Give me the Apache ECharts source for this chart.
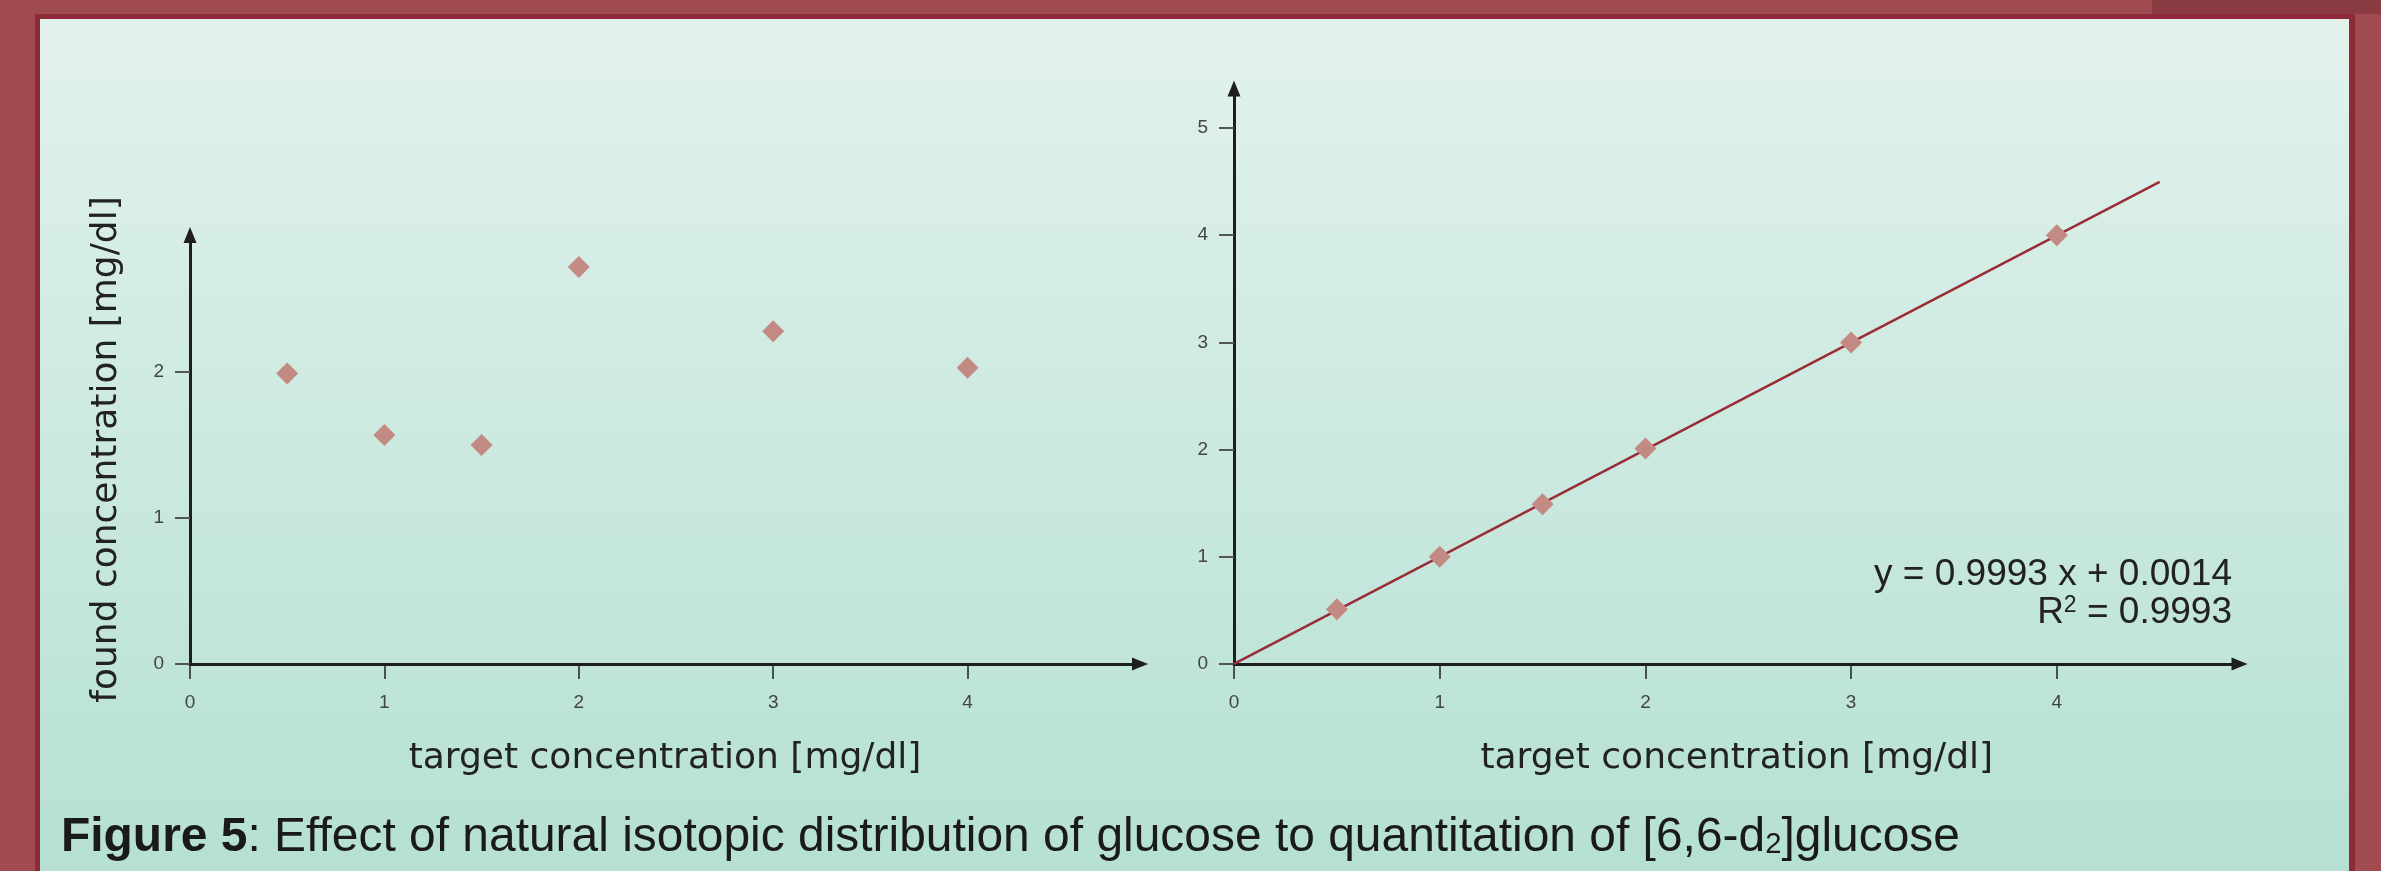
<!DOCTYPE html>
<html><head><meta charset="utf-8">
<script src="https://cdn.jsdelivr.net/npm/echarts@6/dist/echarts.min.js"></script>
<style>html,body{margin:0;padding:0;background:#9f4b50;overflow:hidden}#c{width:2381px;height:871px}</style>
</head><body><div id="c"></div>
<script>
// ---- data ----
const xTickValues = [0, 1, 2, 3, 4];
const leftYTickValues = [0, 1, 2];
const rightYTickValues = [0, 1, 2, 3, 4, 5];
const targetLeft = [0.5, 1, 1.5, 2, 3, 4];
const foundLeft = [1.99, 1.57, 1.50, 2.72, 2.28, 2.03];
const targetRight = [0.5, 1, 1.5, 2, 3, 4];
const foundRight = [0.51, 1.00, 1.49, 2.01, 3.00, 4.00];
const fitX = [0, 4.5];
const fitY = [0.0014, 4.498];
const xName = 'target concentration [mg/dl]';
const yName = 'found concentration [mg/dl]';
const eqLine1 = 'y = 0.9993 x + 0.0014';
const eqLine2Base = 'R';
const eqLine2Sup = '2';
const eqLine2Rest = ' = 0.9993';
const captionBold = 'Figure 5';
const captionText = ': Effect of natural isotopic distribution of glucose to quantitation of [6,6-d';
const captionSub = '2';
const captionEnd = ']glucose';

const pair = (xs, ys) => xs.map((x, i) => [x, ys[i]]);

const chart = echarts.init(document.getElementById('c'), null, {renderer: 'canvas'});

const tickFont = "'Liberation Sans Narrow', 'Liberation Sans', Arial, sans-serif";
const nameFont = "'DejaVu Sans', 'Liberation Sans', sans-serif";
const textFont = "'Liberation Sans', Arial, sans-serif";

function xAxis(gi, max, name) {
  return {
    type: 'value', gridIndex: gi, min: 0, max: max, interval: 1,
    name: name, nameLocation: 'middle', nameGap: 77,
    nameTextStyle: {fontFamily: nameFont, fontSize: 36, color: '#222'},
    axisLine: {show: true, symbol: ['none', 'triangle'], symbolSize: [13, 16],
      lineStyle: {color: '#1e1e1e', width: 3}},
    axisTick: {show: true, inside: false, length: 15, customValues: xTickValues,
      lineStyle: {color: '#222', width: 1.5}},
    axisLabel: {show: true, margin: 29, customValues: xTickValues,
      fontFamily: tickFont, fontSize: 19, color: '#444'},
    splitLine: {show: false}, z: 5
  };
}
function yAxis(gi, max, ticks, name) {
  return {
    type: 'value', gridIndex: gi, min: 0, max: max, interval: 1,
    name: name || '', nameLocation: 'middle', nameGap: 65, nameRotate: 90,
    nameTextStyle: {fontFamily: nameFont, fontSize: 36, color: '#222'},
    axisLine: {show: true, symbol: ['none', 'triangle'], symbolSize: [13, 16],
      lineStyle: {color: '#1e1e1e', width: 3}},
    axisTick: {show: true, inside: false, length: 15, customValues: ticks,
      lineStyle: {color: '#555', width: 2}},
    axisLabel: {show: true, margin: 26, customValues: ticks, padding: [0, 0, 8, 0],
      fontFamily: tickFont, fontSize: 19, color: '#444'},
    splitLine: {show: false}, z: 5
  };
}

const option = {
  backgroundColor: '#9f4b50',
  animation: false,
  graphic: [
    {type: 'rect', z: -10, shape: {x: 35, y: 14, width: 2320, height: 870}, style: {fill: '#8e2a3a'}},
    {type: 'rect', z: -10, shape: {x: 2152, y: 0, width: 229, height: 14}, style: {fill: '#8a3a41'}},
    {type: 'rect', z: -9, shape: {x: 40, y: 19, width: 2309, height: 860},
      style: {fill: new echarts.graphic.LinearGradient(0, 0, 0, 1, [
        {offset: 0, color: '#e2f2ec'}, {offset: 1, color: '#b5e0d3'}])}},
    {type: 'text', z: 10, style: {x: 2232, y: 593, text: eqLine1, textAlign: 'right', textVerticalAlign: 'bottom',
      fontFamily: textFont, fontSize: 37, fill: '#222'}},
    {type: 'text', z: 10, style: {x: 2232, y: 631, textAlign: 'right', textVerticalAlign: 'bottom',
      text: '{a|' + eqLine2Base + '}{s|' + eqLine2Sup + '}{a|' + eqLine2Rest + '}',
      rich: {
        a: {fontFamily: textFont, fontSize: 37, fill: '#222', color: '#222'},
        s: {fontFamily: textFont, fontSize: 23, fill: '#222', color: '#222', verticalAlign: 'top', padding: [0, 0, 14, 0]}
      }}},
    {type: 'text', z: 10, x: 61, y: 862, scaleX: 1.009, style: {x: 0, y: 0, textVerticalAlign: 'bottom',
      text: '{b|' + captionBold + '}{r|' + captionText + '}{sub|' + captionSub + '}{r|' + captionEnd + '}',
      rich: {
        b: {fontFamily: textFont, fontSize: 47.5, fontWeight: 'bold', fill: '#1a1a1a', color: '#1a1a1a'},
        r: {fontFamily: textFont, fontSize: 47.5, fill: '#1a1a1a', color: '#1a1a1a'},
        sub: {fontFamily: textFont, fontSize: 29, fill: '#1a1a1a', color: '#1a1a1a', padding: [14, 0, 0, 0]}
      }}}
  ],
  grid: [
    {left: 190, right: 1241, top: 235, bottom: 207},
    {left: 1234, right: 141.5, top: 88.4, bottom: 207}
  ],
  xAxis: [xAxis(0, 4.887, xName), xAxis(1, 4.888, xName)],
  yAxis: [yAxis(0, 2.94, leftYTickValues, yName), yAxis(1, 5.37, rightYTickValues, '')],
  series: [
    {type: 'scatter', xAxisIndex: 0, yAxisIndex: 0, data: pair(targetLeft, foundLeft),
      symbol: 'diamond', symbolSize: 22, itemStyle: {color: '#c38a83', opacity: 1}, z: 6},
    {type: 'line', xAxisIndex: 1, yAxisIndex: 1, data: pair(fitX, fitY), showSymbol: false,
      lineStyle: {color: '#9a2c38', width: 2.5}, z: 6},
    {type: 'scatter', xAxisIndex: 1, yAxisIndex: 1, data: pair(targetRight, foundRight),
      symbol: 'diamond', symbolSize: 22, itemStyle: {color: '#c38a83', opacity: 1}, z: 7}
  ]
};
chart.setOption(option);
</script></body></html>
